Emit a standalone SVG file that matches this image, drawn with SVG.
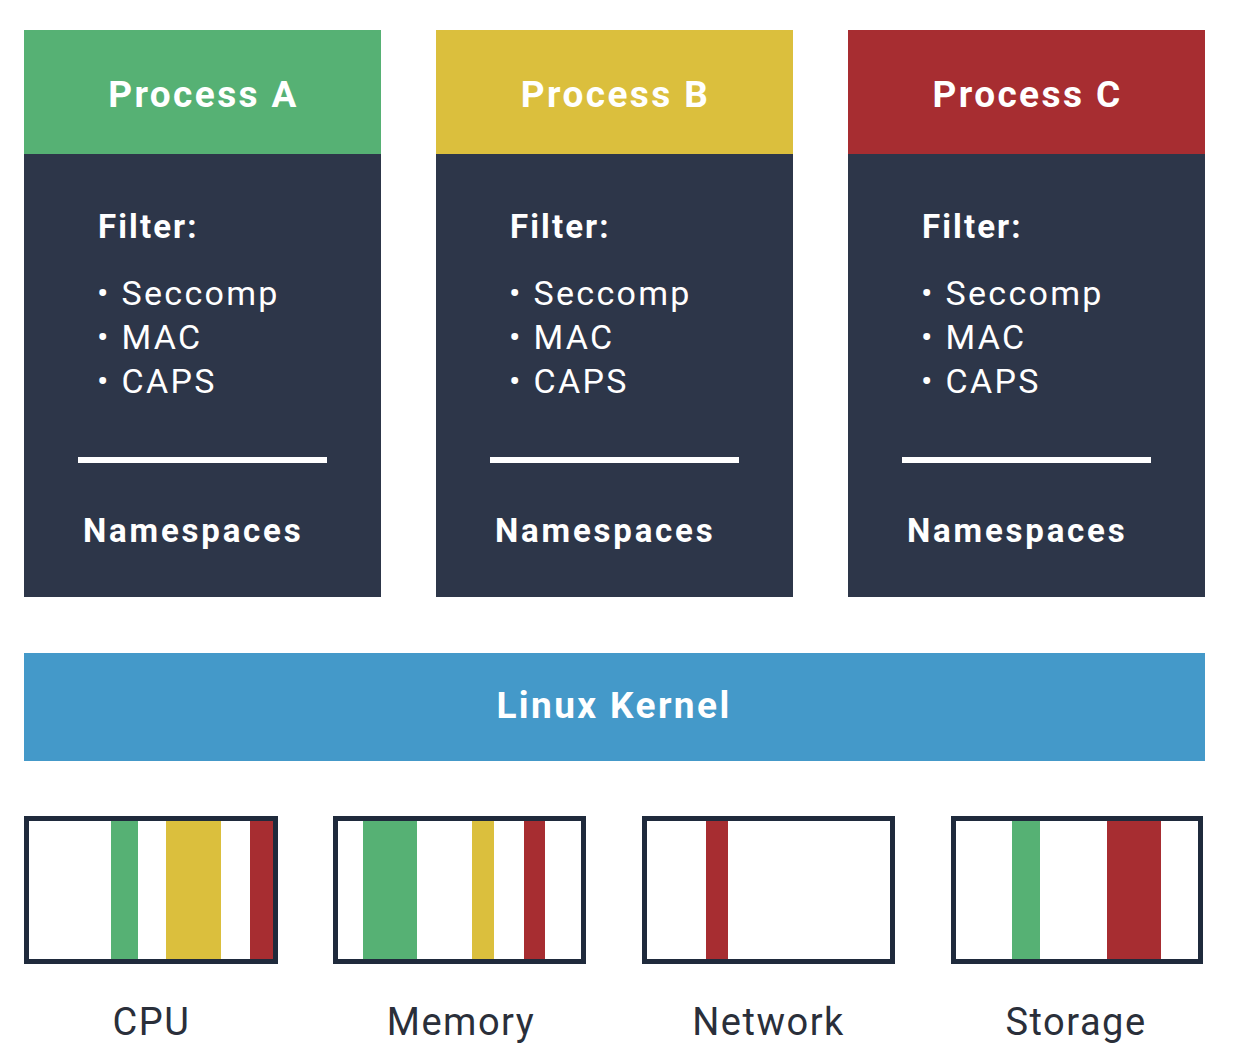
<svg xmlns="http://www.w3.org/2000/svg" width="1234" height="1056" viewBox="0 0 1234 1056">
<style>
.body{fill:#2d3649}
.title{font-family:Roboto,"Liberation Sans",sans-serif;font-weight:700;font-size:37px;fill:#fff;text-anchor:middle;letter-spacing:2.4px}
.filt{font-family:Roboto,"Liberation Sans",sans-serif;font-weight:700;font-size:33px;fill:#fff;letter-spacing:2.1px}
.item{font-family:Roboto,"Liberation Sans",sans-serif;font-weight:400;font-size:34px;fill:#fff;letter-spacing:2.3px}
.ns{font-family:Roboto,"Liberation Sans",sans-serif;font-weight:700;font-size:33px;fill:#fff;letter-spacing:2.8px}
.div{stroke:#fff;stroke-width:6}
.res{fill:#fff;stroke:#1f2a3c;stroke-width:5}
.lbl{font-family:Roboto,"Liberation Sans",sans-serif;font-weight:400;font-size:38px;fill:#2a2f3a;text-anchor:middle;letter-spacing:1.5px}
.g{fill:#56b174}.y{fill:#dbbf3d}.r{fill:#a72d31}
</style>
<rect width="1234" height="1056" fill="#fff"/>
<g id="processA">
<rect x="24" y="30" width="357" height="124" class="g"/>
<rect x="24" y="154" width="357" height="443" class="body"/>
<text x="203.5" y="107" class="title">Process A</text>
<text x="98" y="238" class="filt">Filter:</text>
<text x="97" y="305" class="item">• Seccomp</text>
<text x="97" y="349" class="item">• MAC</text>
<text x="97" y="393" class="item">• CAPS</text>
<line x1="78" y1="460" x2="327" y2="460" class="div"/>
<text x="83" y="542" class="ns">Namespaces</text>
</g>
<g id="processB">
<rect x="436" y="30" width="357" height="124" class="y"/>
<rect x="436" y="154" width="357" height="443" class="body"/>
<text x="615.5" y="107" class="title">Process B</text>
<text x="510" y="238" class="filt">Filter:</text>
<text x="509" y="305" class="item">• Seccomp</text>
<text x="509" y="349" class="item">• MAC</text>
<text x="509" y="393" class="item">• CAPS</text>
<line x1="490" y1="460" x2="739" y2="460" class="div"/>
<text x="495" y="542" class="ns">Namespaces</text>
</g>
<g id="processC">
<rect x="848" y="30" width="357" height="124" class="r"/>
<rect x="848" y="154" width="357" height="443" class="body"/>
<text x="1027.5" y="107" class="title">Process C</text>
<text x="922" y="238" class="filt">Filter:</text>
<text x="921" y="305" class="item">• Seccomp</text>
<text x="921" y="349" class="item">• MAC</text>
<text x="921" y="393" class="item">• CAPS</text>
<line x1="902" y1="460" x2="1151" y2="460" class="div"/>
<text x="907" y="542" class="ns">Namespaces</text>
</g>
<g id="kernel">
<rect x="24" y="653" width="1181" height="108" fill="#4499c9"/>
<text x="614" y="718" class="title">Linux Kernel</text>
</g>
<g id="cpu">
<rect x="26.5" y="818.5" width="249" height="143" class="res"/>
<rect x="111" y="821" width="27" height="138" class="g"/>
<rect x="166" y="821" width="55" height="138" class="y"/>
<rect x="250" y="821" width="23" height="138" class="r"/>
<text x="151.5" y="1035" class="lbl">CPU</text>
</g>
<g id="memory">
<rect x="335.5" y="818.5" width="248" height="143" class="res"/>
<rect x="363" y="821" width="54" height="138" class="g"/>
<rect x="472" y="821" width="22" height="138" class="y"/>
<rect x="524" y="821" width="21" height="138" class="r"/>
<text x="461" y="1035" class="lbl">Memory</text>
</g>
<g id="network">
<rect x="644.5" y="818.5" width="248" height="143" class="res"/>
<rect x="706" y="821" width="22" height="138" class="r"/>
<text x="768.5" y="1035" class="lbl">Network</text>
</g>
<g id="storage">
<rect x="953.5" y="818.5" width="247" height="143" class="res"/>
<rect x="1012" y="821" width="28" height="138" class="g"/>
<rect x="1107" y="821" width="54" height="138" class="r"/>
<text x="1076" y="1035" class="lbl">Storage</text>
</g>
<g id="connectors"/>
</svg>
